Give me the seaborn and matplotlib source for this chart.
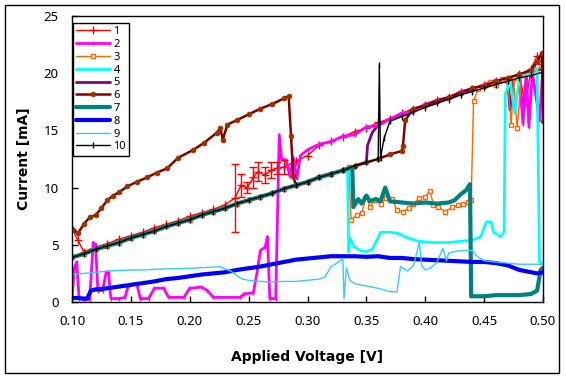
import matplotlib
matplotlib.use("Agg")
import matplotlib.pyplot as plt
import seaborn as sns
import pandas as pd
from matplotlib.patches import Rectangle

# ---------------- data ----------------
x_ticks = [0.10, 0.15, 0.20, 0.25, 0.30, 0.35, 0.40, 0.45, 0.50]
x_tick_labels = ["0.10", "0.15", "0.20", "0.25", "0.30", "0.35", "0.40", "0.45", "0.50"]
y_ticks = [0, 5, 10, 15, 20, 25]
series_names = ["1", "2", "3", "4", "5", "6", "7", "8", "9", "10"]

# common lower (ohmic) branch traced by several devices
base_v = [0.10, 0.11, 0.12, 0.13, 0.14, 0.15, 0.16, 0.17, 0.18, 0.19, 0.20, 0.21, 0.22, 0.23,
          0.24, 0.25, 0.26, 0.27, 0.28, 0.29, 0.30, 0.31, 0.32, 0.33, 0.34, 0.35, 0.36, 0.37, 0.38]
base_i = [3.9, 4.2, 4.6, 4.9, 5.2, 5.6, 5.9, 6.2, 6.6, 6.9, 7.2, 7.6, 7.9, 8.2,
          8.6, 8.9, 9.2, 9.5, 9.9, 10.2, 10.5, 10.9, 11.2, 11.5, 11.9, 12.2, 12.5, 12.9, 13.2]

s1_v = [0.100, 0.105, 0.110, 0.120, 0.130, 0.140, 0.150, 0.160, 0.170, 0.180, 0.190, 0.200, 0.210,
        0.220, 0.230, 0.2385, 0.2435, 0.249, 0.254, 0.258, 0.264, 0.269, 0.274, 0.280, 0.290, 0.300,
        0.310, 0.320, 0.330, 0.340, 0.350, 0.360, 0.370, 0.380, 0.390, 0.400, 0.410, 0.420, 0.430,
        0.440, 0.450, 0.460, 0.470, 0.480, 0.485, 0.490, 0.495, 0.500]
s1_i = [6.4, 5.4, 4.4, 4.8, 5.1, 5.5, 5.8, 6.1, 6.5, 6.8, 7.1, 7.5, 7.8,
        8.1, 8.5, 9.1, 10.2, 10.0, 10.9, 11.4, 11.1, 11.5, 11.7, 11.8, 12.3, 12.8,
        13.7, 14.1, 14.4, 14.9, 15.2, 15.7, 16.0, 16.5, 16.9, 17.2, 17.7, 17.9, 18.4,
        18.6, 19.0, 19.3, 19.5, 19.9, 17.3, 20.4, 21.5, 20.8]
s1_err_v = [0.2385, 0.2435, 0.249, 0.254, 0.258, 0.264, 0.269, 0.274, 0.280]
s1_err_i = [9.1, 10.2, 10.0, 10.9, 11.4, 11.1, 11.5, 11.7, 11.8]
s1_err = [3.0, 1.0, 0.5, 0.9, 0.8, 0.7, 0.7, 0.5, 0.6]

s2_v = [0.100, 0.102, 0.104, 0.106, 0.110, 0.115, 0.118, 0.120, 0.122, 0.126, 0.129, 0.131, 0.133,
        0.140, 0.145, 0.148, 0.155, 0.158, 0.165, 0.170, 0.178, 0.182, 0.195, 0.200, 0.210, 0.215,
        0.220, 0.243, 0.246, 0.254, 0.257, 0.260, 0.264, 0.266, 0.268, 0.273, 0.276, 0.278, 0.282,
        0.285, 0.288, 0.291, 0.294, 0.300, 0.310, 0.320, 0.330, 0.340, 0.350, 0.360, 0.370, 0.380,
        0.390, 0.400, 0.410, 0.420, 0.430, 0.440, 0.450, 0.460, 0.470, 0.475, 0.480, 0.483, 0.486,
        0.488, 0.491, 0.497, 0.500]
s2_i = [0.2, 3.0, 3.5, 0.3, 0.2, 0.2, 5.2, 5.0, 1.0, 1.0, 2.6, 2.6, 0.3,
        0.3, 0.4, 1.5, 1.6, 0.3, 0.3, 1.2, 1.2, 0.4, 0.4, 1.2, 1.3, 1.0,
        0.4, 0.4, 0.7, 0.8, 2.5, 4.5, 4.8, 5.7, 0.3, 0.3, 14.6, 12.5, 12.4,
        11.0, 12.6, 10.8, 12.8, 13.3, 13.8, 14.0, 14.5, 14.6, 15.3, 15.4, 16.0, 16.5,
        16.6, 17.3, 17.6, 17.8, 18.4, 18.6, 19.0, 19.4, 19.2, 19.6, 19.8, 15.6, 19.9,
        15.3, 20.1, 15.9, 20.5]

s3_tail_v = [0.335, 0.337, 0.342, 0.346, 0.350, 0.353, 0.357, 0.362, 0.367, 0.372, 0.376, 0.381,
             0.386, 0.390, 0.395, 0.400, 0.404, 0.407, 0.411, 0.417, 0.423, 0.428, 0.432, 0.436,
             0.439, 0.441, 0.445, 0.450, 0.455, 0.460, 0.465, 0.470, 0.473, 0.475, 0.478, 0.482,
             0.490, 0.495, 0.500]
s3_tail_i = [11.8, 7.2, 7.6, 7.8, 9.2, 8.3, 8.9, 8.6, 9.1, 9.0, 8.0, 7.9,
             8.2, 8.6, 9.1, 9.2, 9.7, 8.5, 8.3, 7.9, 8.3, 8.5, 8.6, 8.7,
             8.9, 17.6, 18.6, 18.9, 19.2, 19.0, 19.5, 19.3, 15.5, 19.6, 15.2, 19.8,
             20.0, 20.6, 20.3]

s4_tail_v = [0.334, 0.335, 0.336, 0.340, 0.345, 0.350, 0.355, 0.359, 0.362, 0.370, 0.377, 0.385,
             0.395, 0.407, 0.420, 0.430, 0.440, 0.447, 0.452, 0.456, 0.458, 0.464, 0.467, 0.468,
             0.472, 0.476, 0.480, 0.485, 0.490, 0.495, 0.497, 0.500]
s4_tail_i = [11.7, 4.4, 5.6, 4.8, 4.5, 4.4, 4.6, 5.4, 6.1, 6.1, 6.0, 5.6,
             5.3, 5.2, 5.2, 5.3, 5.4, 5.7, 7.0, 7.0, 6.1, 5.7, 6.1, 18.2,
             19.3, 16.5, 19.6, 19.8, 20.0, 20.4, 3.5, 3.4]

s5_tail_v = [0.351, 0.355, 0.360, 0.370, 0.380, 0.390, 0.400, 0.410, 0.420, 0.430, 0.440,
             0.450, 0.460, 0.470, 0.472, 0.475, 0.480, 0.483, 0.486, 0.490, 0.500]
s5_tail_i = [13.7, 14.8, 15.5, 16.0, 16.3, 16.8, 17.1, 17.4, 17.9, 18.2, 18.5,
             18.9, 19.1, 19.4, 16.8, 19.5, 19.7, 16.2, 19.9, 20.1, 20.4]

s6_head_v = [0.100, 0.105, 0.110, 0.115, 0.120, 0.125, 0.130, 0.135, 0.140, 0.147, 0.155, 0.164,
             0.172, 0.181, 0.190, 0.203, 0.212, 0.223, 0.226, 0.228, 0.232, 0.240, 0.250, 0.260,
             0.270, 0.280, 0.284, 0.286, 0.288]
s6_head_i = [6.4, 6.0, 6.8, 7.4, 7.6, 8.2, 8.9, 9.3, 9.6, 10.1, 10.5, 10.9,
             11.3, 11.7, 12.6, 13.3, 13.9, 14.8, 15.2, 14.2, 15.5, 15.9, 16.4, 16.9,
             17.3, 17.8, 18.0, 14.5, 11.0]
s6_tail_v = [0.381, 0.383, 0.390, 0.400, 0.410, 0.420, 0.430, 0.440, 0.450, 0.460, 0.470,
             0.480, 0.490, 0.495, 0.499, 0.500]
s6_tail_i = [13.6, 15.9, 16.9, 17.2, 17.6, 17.9, 18.3, 18.7, 18.9, 19.3, 19.6,
             19.9, 20.3, 21.0, 21.8, 15.8]

s7_tail_v = [0.338, 0.339, 0.343, 0.346, 0.350, 0.353, 0.358, 0.362, 0.366, 0.370, 0.380, 0.390,
             0.400, 0.410, 0.420, 0.425, 0.430, 0.435, 0.438, 0.439, 0.450, 0.460, 0.470, 0.480,
             0.490, 0.495, 0.498, 0.500]
s7_tail_i = [11.8, 8.3, 9.0, 8.6, 9.3, 8.8, 9.0, 8.8, 10.0, 8.8, 8.7, 8.6,
             8.7, 8.6, 8.7, 8.9, 9.4, 9.8, 10.3, 0.5, 0.5, 0.6, 0.6, 0.6,
             0.7, 1.0, 2.8, 3.0]

s8_v = [0.100, 0.105, 0.110, 0.113, 0.116, 0.12, 0.13, 0.14, 0.15, 0.16, 0.17, 0.18, 0.19, 0.20,
        0.21, 0.22, 0.23, 0.24, 0.25, 0.26, 0.27, 0.28, 0.29, 0.30, 0.31, 0.32, 0.33, 0.34, 0.35,
        0.36, 0.37, 0.38, 0.39, 0.40, 0.41, 0.42, 0.43, 0.44, 0.45, 0.46, 0.47, 0.475, 0.480,
        0.490, 0.495, 0.500]
s8_i = [0.35, 0.35, 0.3, 0.3, 1.0, 1.1, 1.2, 1.35, 1.5, 1.65, 1.8, 2.0, 2.1, 2.25,
        2.4, 2.5, 2.6, 2.8, 2.95, 3.1, 3.3, 3.5, 3.7, 3.8, 3.9, 4.0, 4.0, 4.0, 3.95,
        4.0, 3.85, 3.85, 3.75, 3.7, 3.65, 3.6, 3.55, 3.5, 3.5, 3.4, 3.2, 3.0, 2.8,
        2.6, 2.5, 2.6]

s9_v = [0.100, 0.110, 0.120, 0.130, 0.140, 0.150, 0.160, 0.170, 0.180, 0.190, 0.200, 0.210, 0.220,
        0.225, 0.230, 0.235, 0.240, 0.245, 0.250, 0.260, 0.270, 0.280, 0.290, 0.300, 0.310, 0.315,
        0.320, 0.325, 0.330, 0.331, 0.333, 0.336, 0.340, 0.350, 0.360, 0.370, 0.376, 0.379, 0.385,
        0.390, 0.395, 0.397, 0.400, 0.405, 0.410, 0.415, 0.418, 0.420, 0.430, 0.440, 0.444, 0.450,
        0.460, 0.470, 0.480, 0.490, 0.500]
s9_i = [2.4, 2.5, 2.6, 2.7, 2.75, 2.8, 2.8, 2.85, 2.9, 2.9, 2.95, 3.0, 3.05,
        3.1, 2.9, 2.7, 2.3, 2.0, 1.9, 1.8, 1.75, 1.8, 1.8, 1.9, 2.0, 2.2,
        3.1, 3.4, 3.8, 0.3, 3.0, 1.9, 1.6, 1.4, 1.2, 0.9, 0.9, 3.1, 2.7,
        3.2, 5.2, 3.2, 2.8, 3.0, 3.5, 4.7, 3.6, 4.3, 4.5, 4.5, 4.0, 3.6,
        3.5, 3.4, 3.3, 3.3, 3.3]

s10_tail_v = [0.361, 0.362, 0.365, 0.370, 0.380, 0.390, 0.400, 0.410, 0.420, 0.430, 0.440,
              0.450, 0.460, 0.470, 0.480, 0.490, 0.500]
s10_tail_i = [20.7, 12.6, 14.3, 15.8, 16.2, 16.6, 17.0, 17.4, 17.7, 18.1, 18.4,
              18.7, 19.0, 19.3, 19.6, 19.8, 20.1]

# assemble each device's curve from its segments
curves = [
    (s1_v, s1_i),
    (s2_v, s2_i),
    (base_v[:24] + s3_tail_v, base_i[:24] + s3_tail_i),
    (base_v[:24] + s4_tail_v, base_i[:24] + s4_tail_i),
    (base_v[:26] + s5_tail_v, base_i[:26] + s5_tail_i),
    (s6_head_v + base_v[19:29] + s6_tail_v, s6_head_i + base_i[19:29] + s6_tail_i),
    (base_v[:24] + s7_tail_v, base_i[:24] + s7_tail_i),
    (s8_v, s8_i),
    (s9_v, s9_i),
    (base_v[:27] + s10_tail_v, base_i[:27] + s10_tail_i),
]

styles = [
    dict(color="#FF0000", lw=1.0, marker="+", ms=6, mec="#FF0000", mew=1.0),
    dict(color="#FF00FF", lw=2.0, marker="|", ms=3, mec="#FF00FF", mew=1.0),
    dict(color="#FF6600", lw=1.0, marker="s", ms=3.5, mec="#FF6600", mfc="white", mew=1.0),
    dict(color="#00FFFF", lw=2.0),
    dict(color="#800080", lw=2.0, zorder=1.5),
    dict(color="#800000", lw=1.8, marker="o", ms=3.2, mec="#993300", mfc="#993300", mew=0.8),
    dict(color="#008080", lw=3.0),
    dict(color="#0000FF", lw=3.0),
    dict(color="#33CCFF", lw=1.0),
    dict(color="#000000", lw=1.0, marker="|", ms=4, mec="#000000", mew=1.0),
]

# ---------------- plotting ----------------
sns.set_theme(style="white")
plt.rcParams["font.family"] = ["Noto Sans", "DejaVu Sans"]

W, H = 566, 378
fig = plt.figure(figsize=(W / 100, H / 100), dpi=100)
ax = fig.add_axes([72 / W, (H - 302) / H, 471 / W, 286 / H])

for name, (v, i), st in zip(series_names, curves, styles):
    df = pd.DataFrame({"V": v, "I": i})
    sns.lineplot(data=df, x="V", y="I", ax=ax, estimator=None, sort=False,
                 label=name, **st)

ax.errorbar(s1_err_v, s1_err_i, yerr=s1_err, fmt="none", ecolor="#FF0000",
            elinewidth=1.0, capsize=3, capthick=1.0, zorder=3)

ax.set_xlim(0.10, 0.50)
ax.set_ylim(0, 25)
ax.set_xticks(x_ticks)
ax.set_xticklabels(x_tick_labels)
ax.set_yticks(y_ticks)
ax.tick_params(axis="both", direction="in", length=4, width=1, color="black",
               labelsize=9.5, labelcolor="black", pad=9.5, bottom=True, left=True)
for sp in ax.spines.values():
    sp.set_visible(True)
    sp.set_color("black")
    sp.set_linewidth(1.0)
ax.grid(False)

label_font = dict(family="DejaVu Sans", size=10, weight="bold", color="black")
ax.set_xlabel("Applied Voltage [V]", fontdict=label_font)
ax.set_ylabel("Current [mA]", fontdict=label_font)
ax.xaxis.set_label_coords(0.5, (302 - 350) / 286)
ax.yaxis.set_label_coords((31 - 72) / 471, 0.5)

leg = ax.legend(loc="upper left", bbox_to_anchor=(0.002, (302 - 23) / 286),
                borderaxespad=0, frameon=True, fancybox=False, framealpha=1,
                edgecolor="black", fontsize=8, handlelength=3.0,
                handletextpad=0.35, labelspacing=0.16, borderpad=0.3)
leg.get_frame().set_linewidth(1.0)
for t in leg.get_texts():
    t.set_color("black")

fig.patches.append(Rectangle((5 / W, (H - 373) / H), 554 / W, 368 / H,
                             transform=fig.transFigure, fill=False,
                             edgecolor="black", linewidth=1.0))

fig.savefig("out.png", dpi=100)
